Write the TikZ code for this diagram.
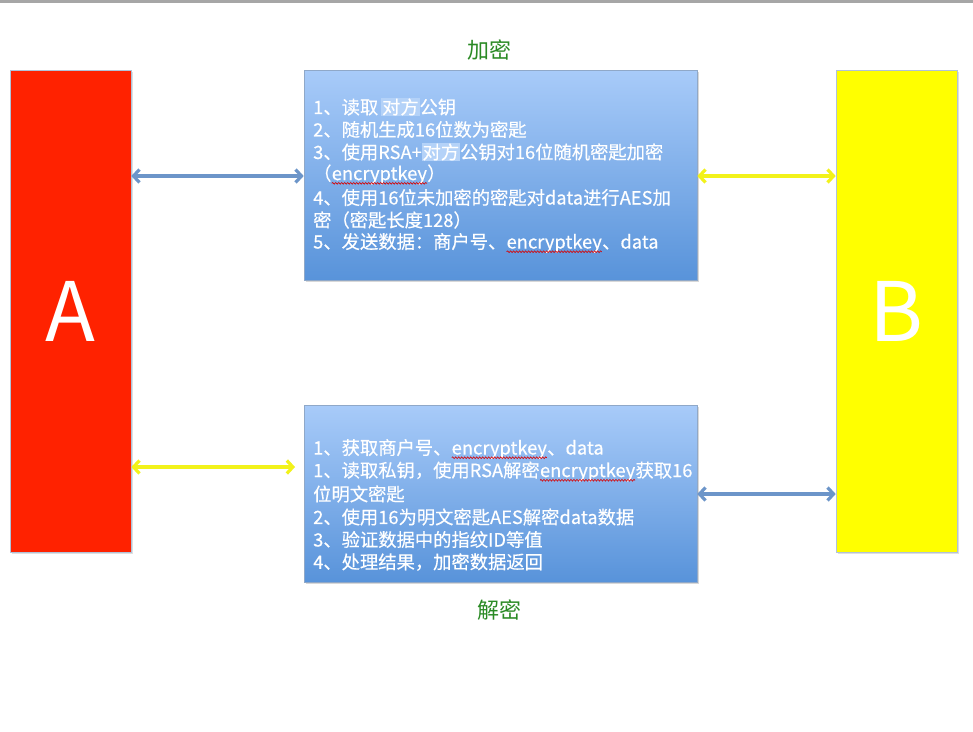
\documentclass[tikz,border=0pt]{standalone}
\usepackage{fontspec}
\newfontfamily\cjk{Noto Sans CJK SC}
\setmainfont{Noto Sans CJK SC}[FakeBold=0.4]
\usetikzlibrary{arrows.meta,shadows,decorations.pathmorphing}
\definecolor{redA}{HTML}{FF2200}
\definecolor{yelB}{HTML}{FFFF00}
\definecolor{boxtop}{HTML}{A8CBF9}
\definecolor{boxbot}{HTML}{5893DA}
\definecolor{boxedge}{HTML}{8FA8C8}
\definecolor{arrblue}{HTML}{6C95C9}
\definecolor{arryel}{HTML}{F2F21A}
\definecolor{lblgreen}{HTML}{2A8A24}
\definecolor{hlblue}{HTML}{B4D2F8}
\newcommand\redwave[1]{\tikz[baseline=(w.base)]{\node[inner sep=0pt,outer sep=0pt,anchor=base west] (w) at (0,0) {#1};
  \draw[red!85!black, line width=0.6pt, decorate, decoration={snake, amplitude=0.9pt, segment length=3pt}]
    ([yshift=-3.2pt]w.base west) -- ([yshift=-3.2pt]w.base east);}}
\newcommand\hlt[1]{{\setlength\fboxsep{0.8pt}\colorbox{hlblue}{#1}}}
\tikzset{
  party/.style={draw=boxedge!70, line width=0.6pt, minimum width=121pt, minimum height=482pt, inner sep=0pt,
    text=white, font=\cjk\fontsize{82}{90}\selectfont, drop shadow={shadow xshift=1.5pt, shadow yshift=-1.5pt, opacity=0.25}},
  stepbox/.style={draw=boxedge, line width=0.6pt, top color=boxtop, bottom color=boxbot, minimum width=393pt, inner sep=0pt,
    drop shadow={shadow xshift=1.5pt, shadow yshift=-1.5pt, opacity=0.3}},
  ln/.style={anchor=west, inner sep=0pt, text=white, font=\fontsize{18.3}{22}\selectfont},
  lbl/.style={text=lblgreen, font=\cjk\fontsize{22}{26}\selectfont},
  link/.style={line width=3.2pt, {Straight Barb[length=6pt,width=13pt]}-{Straight Barb[length=6pt,width=13pt]}},
}
\begin{document}
\begin{tikzpicture}[x=1pt,y=-1pt]
\useasboundingbox (0,0) rectangle (973,731);
\fill[white] (0,0) rectangle (973,731);
\fill[gray!70] (0,0) rectangle (973,2.5);

\node[party, fill=redA] (A) at (70.5,311) {A};
\node[party, fill=yelB] (B) at (896.5,311) {B};

\node[stepbox, minimum height=210pt] (enc) at (500.5,175) {};
\node[stepbox, minimum height=177pt] (dec) at (500.5,493.5) {};

\node[lbl] (enclbl) at (489,50) {加密};
\node[lbl] (declbl) at (499,610) {解密};

\node[ln] (e1) at (313,107) {1、读取\,\hlt{对方}公钥};
\node[ln] (e2) at (313,129.5) {2、随机生成16位数为密匙};
\node[ln] (e3) at (313,152) {3、使用RSA+\hlt{对方}公钥对16位随机密匙加密};
\node[ln] (e4) at (313,174.5) {（\redwave{encryptkey}）};
\node[ln] (e5) at (313,197.5) {4、使用16位未加密的密匙对data进行AES加};
\node[ln] (e6) at (313,220) {密（密匙长度128）};
\node[ln] (e7) at (313,243) {5、发送数据：商户号、\redwave{encryptkey}、data};

\node[ln] (d1) at (313,449) {1、获取商户号、\redwave{encryptkey}、data};
\node[ln] (d2) at (313,471.5) {1、读取私钥，使用RSA解密\redwave{encryptkey}获取16};
\node[ln] (d3) at (313,494) {位明文密匙};
\node[ln] (d4) at (313,517) {2、使用16为明文密匙AES解密data数据};
\node[ln] (d5) at (313,539.5) {3、验证数据中的指纹ID等值};
\node[ln] (d6) at (313,562) {4、处理结果，加密数据返回};

\draw[link, arrblue] (A.east |- 0,176) -- (enc.west |- 0,176);
\draw[link, arryel] (enc.east |- 0,176) -- (B.west |- 0,176);
\draw[link, arryel] (A.east |- 0,467) -- (295,467) coordinate (yend);
\draw[link, arrblue] (dec.east |- 0,494) -- (B.west |- 0,494);
\end{tikzpicture}
\end{document}
